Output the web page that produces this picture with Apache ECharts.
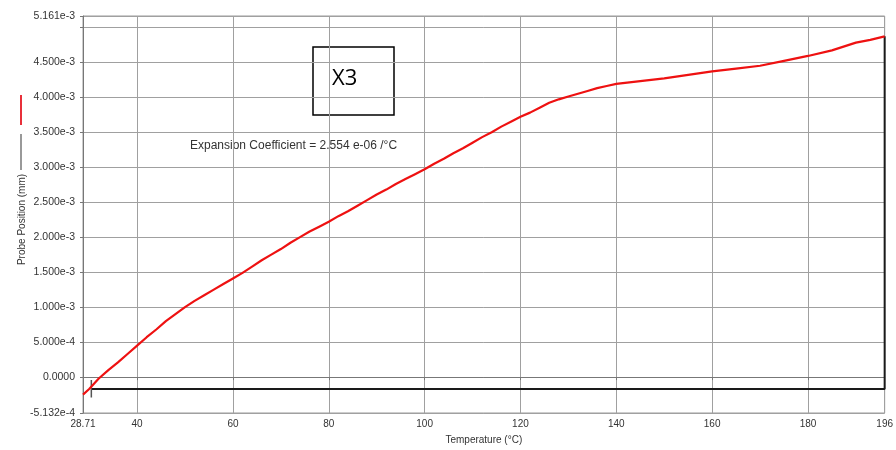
<!DOCTYPE html>
<html>
<head>
<meta charset="utf-8">
<script src="https://cdn.jsdelivr.net/npm/echarts@6/dist/echarts.min.js"></script>
<style>html,body{margin:0;padding:0;background:#fff}#c{width:896px;height:450px}</style>
</head>
<body>
<div id="c"></div>
<script>
// Temperature (°C)
var temps = [28.71,30,32,34,36,38,40,42,44,46,48,50,52,54,56,58,60,62,64,66,68,70,72,74,76,78,80,82,84,86,88,90,92,94,96,98,100,102,104,106,108,110,112,114,116,118,120,122,124,126,128,130,132,134,136,138,140,145,150,155,160,165,170,175,180,185,190,193,196];
// Probe position (e-3 mm)
var probe = [-0.25,-0.17,-0.02,0.10,0.21,0.33,0.45,0.57,0.68,0.80,0.90,1.00,1.09,1.17,1.25,1.33,1.41,1.49,1.58,1.67,1.75,1.83,1.92,2.00,2.08,2.15,2.22,2.30,2.37,2.45,2.53,2.61,2.68,2.76,2.83,2.90,2.97,3.05,3.12,3.20,3.27,3.35,3.43,3.50,3.58,3.65,3.72,3.78,3.85,3.92,3.97,4.01,4.05,4.09,4.13,4.16,4.19,4.23,4.27,4.32,4.37,4.41,4.45,4.52,4.59,4.67,4.78,4.82,4.87];
// Baseline (black) series
var baseX = [30.45, 196, 196];
var baseY = [-0.17, -0.17, 4.87];
// Cursor marker
var cursorX = [30.45, 30.45];
var cursorY = [-0.04, -0.29];

var xMin = 28.71, xMax = 196;
var yMin = -5.132e-4, yMax = 5.161e-3;
var xTicks = [28.71,40,60,80,100,120,140,160,180,196];
var yTicks = [-5.132e-4,0,5e-4,1e-3,1.5e-3,2e-3,2.5e-3,3e-3,3.5e-3,4e-3,4.5e-3,5e-3,5.161e-3];
var yLabels = [-5.132e-4,0,5e-4,1e-3,1.5e-3,2e-3,2.5e-3,3e-3,3.5e-3,4e-3,4.5e-3,5.161e-3];

function pairs(xs, ys){ return xs.map(function(x,i){ return [x, ys[i]*1e-3]; }); }

var chart = echarts.init(document.getElementById('c'));
var font = 'Liberation Sans, Arial, sans-serif';
chart.setOption({
  animation:false,
  grid:{left:83,right:8,top:16,bottom:35,show:true,borderColor:'#9a9a9a',borderWidth:1},
  xAxis:{
    type:'value', min:xMin, max:xMax,
    name:'Temperature (°C)', nameLocation:'middle', nameGap:22,
    nameTextStyle:{color:'#333',fontSize:10,fontFamily:font},
    axisLine:{show:true,lineStyle:{color:'#777'}},
    axisTick:{show:true,length:3,customValues:xTicks,lineStyle:{color:'#777'}},
    axisLabel:{customValues:xTicks,color:'#333',fontSize:10,fontFamily:font,margin:6,
      formatter:function(v){ return String(v); }},
    splitLine:{show:true,lineStyle:{color:'#a0a0a0',width:1}}
  },
  yAxis:{
    type:'value', min:yMin, max:yMax,
    name:'Probe Position (mm)', nameLocation:'middle', nameGap:56, nameRotate:90,
    nameMoveOverlap:false,
    nameTextStyle:{color:'#333',fontSize:10,fontFamily:font,padding:[0,10,0,0]},
    axisLine:{show:true,lineStyle:{color:'#777'}},
    axisTick:{show:true,length:3,customValues:yTicks,lineStyle:{color:'#777'}},
    axisLabel:{customValues:yLabels,color:'#333',fontSize:10.5,fontFamily:font,margin:8,
      formatter:function(v){ return v===0 ? '0.0000' : v.toExponential(3); }},
    splitLine:{show:true,lineStyle:{color:'#a0a0a0',width:1}}
  },
  series:[
    {type:'line', data:pairs(baseX, baseY), showSymbol:false, lineStyle:{color:'#1a1a1a',width:2}, z:3},
    {type:'line', data:pairs(cursorX, cursorY), showSymbol:false, lineStyle:{color:'#555',width:1.5}, z:3},
    {type:'line', data:pairs(temps, probe), showSymbol:false, lineStyle:{color:'#ee1111',width:2.2}, z:4}
  ],
  graphic:[
    {type:'line', shape:{x1:21,y1:95,x2:21,y2:125}, style:{stroke:'#e8303a',lineWidth:2}},
    {type:'line', shape:{x1:21,y1:134,x2:21,y2:170}, style:{stroke:'#555',lineWidth:1.2}},
    {type:'text', left:190, top:140, z:-1, style:{text:'Expansion Coefficient = 2.554 e-06 /°C', fill:'#333', font:'12px '+font}},
    {type:'rect', shape:{x:313,y:47,width:81,height:68}, style:{fill:'none',stroke:'#000',lineWidth:1.5}},
    {type:'text', left:332, top:68, style:{text:'X3', fill:'#000', font:'22px Open Sans'}}
  ]
});
</script>
</body>
</html>
